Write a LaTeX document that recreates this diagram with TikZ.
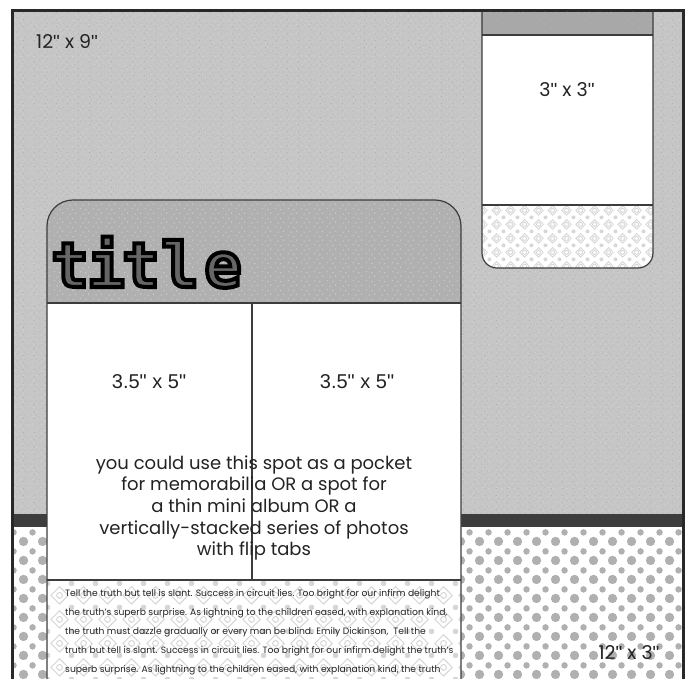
\documentclass[tikz,border=0pt]{standalone}
\usepackage{fontspec}
\setmainfont{Poppins}
\newfontfamily\arialf{Liberation Sans}
\newfontfamily\titlef{DejaVu Sans Mono}
\usetikzlibrary{patterns}
\newcommand{\qq}{{\arialf"}}
\newcommand{\outl}[1]{\special{pdf:code 2 Tr 4 w 0.4 g 0 G}#1\special{pdf:code 0 Tr 1 w 0 g 0 G}}
\definecolor{bggrey}{RGB}{198,198,198}
\definecolor{titlegrey}{RGB}{176,176,176}
\definecolor{stripgrey}{RGB}{168,168,168}
\definecolor{dotgrey}{RGB}{176,176,176}
\definecolor{damgrey}{RGB}{214,214,214}
\definecolor{speckd}{RGB}{178,178,178}
\definecolor{speckl}{RGB}{214,214,214}
\definecolor{edge}{RGB}{60,60,60}
\definecolor{framec}{RGB}{40,40,40}
\definecolor{txt}{RGB}{35,35,35}
\pgfdeclarepatternformonly{polka}{\pgfqpoint{0pt}{0pt}}{\pgfqpoint{19pt}{19pt}}{\pgfqpoint{19pt}{19pt}}{%
  \pgfpathcircle{\pgfqpoint{4.75pt}{4.75pt}}{4.9pt}%
  \pgfpathcircle{\pgfqpoint{14.25pt}{14.25pt}}{3.4pt}%
  \pgfusepath{fill}}
\pgfdeclarepatternformonly{speckA}{\pgfqpoint{0pt}{0pt}}{\pgfqpoint{11pt}{7pt}}{\pgfqpoint{11pt}{7pt}}{%
  \pgfpathrectangle{\pgfqpoint{1pt}{1pt}}{\pgfqpoint{1pt}{1pt}}%
  \pgfpathrectangle{\pgfqpoint{6pt}{3pt}}{\pgfqpoint{1pt}{1pt}}%
  \pgfpathrectangle{\pgfqpoint{9pt}{5pt}}{\pgfqpoint{1pt}{1pt}}%
  \pgfpathrectangle{\pgfqpoint{3pt}{5pt}}{\pgfqpoint{1pt}{1pt}}%
  \pgfusepath{fill}}
\pgfdeclarepatternformonly{speckB}{\pgfqpoint{0pt}{0pt}}{\pgfqpoint{13pt}{9pt}}{\pgfqpoint{13pt}{9pt}}{%
  \pgfpathrectangle{\pgfqpoint{2pt}{2pt}}{\pgfqpoint{1pt}{1pt}}%
  \pgfpathrectangle{\pgfqpoint{8pt}{1pt}}{\pgfqpoint{1pt}{1pt}}%
  \pgfpathrectangle{\pgfqpoint{5pt}{6pt}}{\pgfqpoint{1pt}{1pt}}%
  \pgfpathrectangle{\pgfqpoint{11pt}{7pt}}{\pgfqpoint{1pt}{1pt}}%
  \pgfusepath{fill}}
\pgfdeclarepatternformonly{damsmall}{\pgfqpoint{0pt}{0pt}}{\pgfqpoint{14pt}{14pt}}{\pgfqpoint{14pt}{14pt}}{%
  \pgfsetlinewidth{0.9pt}%
  \pgfpathcircle{\pgfqpoint{7pt}{7pt}}{2.2pt}\pgfusepath{stroke}%
  \pgfpathmoveto{\pgfqpoint{7pt}{2pt}}\pgfpathlineto{\pgfqpoint{12pt}{7pt}}\pgfpathlineto{\pgfqpoint{7pt}{12pt}}\pgfpathlineto{\pgfqpoint{2pt}{7pt}}\pgfpathclose\pgfusepath{stroke}%
  \pgfpathcircle{\pgfqpoint{0pt}{0pt}}{1.8pt}\pgfpathcircle{\pgfqpoint{14pt}{0pt}}{1.8pt}%
  \pgfpathcircle{\pgfqpoint{0pt}{14pt}}{1.8pt}\pgfpathcircle{\pgfqpoint{14pt}{14pt}}{1.8pt}%
  \pgfusepath{fill}}
\pgfdeclarepatternformonly{damlarge}{\pgfqpoint{0pt}{0pt}}{\pgfqpoint{24pt}{24pt}}{\pgfqpoint{24pt}{24pt}}{%
  \pgfsetlinewidth{1pt}%
  \pgfpathcircle{\pgfqpoint{12pt}{12pt}}{3pt}\pgfusepath{stroke}%
  \pgfpathmoveto{\pgfqpoint{12pt}{3pt}}\pgfpathlineto{\pgfqpoint{21pt}{12pt}}\pgfpathlineto{\pgfqpoint{12pt}{21pt}}\pgfpathlineto{\pgfqpoint{3pt}{12pt}}\pgfpathclose\pgfusepath{stroke}%
  \pgfpathcircle{\pgfqpoint{0pt}{0pt}}{2.3pt}\pgfpathcircle{\pgfqpoint{24pt}{0pt}}{2.3pt}%
  \pgfpathcircle{\pgfqpoint{0pt}{24pt}}{2.3pt}\pgfpathcircle{\pgfqpoint{24pt}{24pt}}{2.3pt}%
  \pgfusepath{fill}}
\tikzset{
  edgeline/.style={draw=edge, line width=1.2pt},
  sizelabel/.style={font=\fontsize{19}{21}\selectfont, text=txt, inner sep=0pt},
  photolabel/.style={font=\arialf\fontsize{20}{22}\selectfont, text=txt, inner sep=0pt},
  journal/.style={font=\fontsize{9.2}{10}\selectfont, text=txt, inner sep=0pt, anchor=base west},
  titleletter/.style={anchor=base, inner sep=0pt, font=\titlef\bfseries\fontsize{62}{62}\selectfont, text=black},
  speckle/.style={pattern=speckA, pattern color=speckd},
  speckle2/.style={pattern=speckB, pattern color=speckl},
}
\begin{document}
\begin{tikzpicture}[x=1pt,y=-1pt]
\useasboundingbox (0,0) rectangle (694,679);
\fill[white] (0,0) rectangle (694,679);
% page background
\fill[bggrey] (12,10) rectangle (683,514);
\fill[speckle] (12,10) rectangle (683,514);
\fill[speckle2] (12,10) rectangle (683,514);
\fill[framec!90] (12,514) rectangle (683,527);
\fill[white] (12,527) rectangle (683,679);
\fill[pattern=polka, pattern color=dotgrey] (12,527) rectangle (683,679);
% frame
\draw[framec, line width=3pt] (12.5,679) -- (12.5,10.5) -- (683.5,10.5) -- (683.5,679);
% 3x3 block
\fill[stripgrey] (482,12) rectangle (653,35);
\fill[speckle] (482,12) rectangle (653,35);
\fill[white] (482,35) rectangle (653,205);
\fill[white] (482,205) -- (482,253) arc[start angle=180, end angle=90, radius=15] -- (638,268) arc[start angle=90, end angle=0, radius=15] -- (653,205) -- cycle;
\fill[pattern=damsmall, pattern color=damgrey] (482,205) -- (482,253) arc[start angle=180, end angle=90, radius=15] -- (638,268) arc[start angle=90, end angle=0, radius=15] -- (653,205) -- cycle;
\draw[edgeline] (482,12) -- (482,253) arc[start angle=180, end angle=90, radius=15] -- (638,268) arc[start angle=90, end angle=0, radius=15] -- (653,12);
\draw[edgeline] (482,35) -- (653,35);
\draw[edgeline] (482,205) -- (653,205);
\node[sizelabel] (sq) at (567,90) {3\qq{} x 3\qq};
% title block
\fill[white] (47,679) -- (47,226) arc[start angle=180, end angle=270, radius=26] -- (435,200) arc[start angle=270, end angle=360, radius=26] -- (461,679) -- cycle;
\fill[titlegrey] (47,303) -- (47,226) arc[start angle=180, end angle=270, radius=26] -- (435,200) arc[start angle=270, end angle=360, radius=26] -- (461,303) -- cycle;
\fill[speckle2] (47,303) -- (47,226) arc[start angle=180, end angle=270, radius=26] -- (435,200) arc[start angle=270, end angle=360, radius=26] -- (461,303) -- cycle;
\fill[pattern=damlarge, pattern color=damgrey] (47,580) rectangle (461,679);
\draw[edgeline] (47,679) -- (47,226) arc[start angle=180, end angle=270, radius=26] -- (435,200) arc[start angle=270, end angle=360, radius=26] -- (461,679);
\draw[edgeline] (47,303) -- (461,303);
\draw[edgeline] (47,580) -- (461,580);
\draw[edgeline] (252,303) -- (252,580);
\node[titleletter] (t1) at (70,287) {\outl{t}};
\node[titleletter] (t2) at (106,287) {\outl{i}};
\node[titleletter] (t3) at (141,287) {\outl{t}};
\node[titleletter] (t4) at (180,287) {\outl{l}};
\node[titleletter] (t5) at (223,287) {\outl{e}};
\node[photolabel] (p1) at (149,382) {3.5\qq{} x 5\qq};
\node[photolabel] (p2) at (357,382) {3.5\qq{} x 5\qq};
\node[align=center, font=\fontsize{18}{21.6}\selectfont, text=txt, inner sep=0pt] (note) at (254,508)
  {you could use this spot as a pocket\\for memorabilia OR a spot for\\a thin mini album OR a\\vertically-stacked series of photos\\with flip tabs};
\node[journal] (j1) at (65,596) {Tell the truth but tell is slant. Success in circuit lies. Too bright for our infirm delight};
\node[journal] (j2) at (65,615) {the truth's superb surprise. As lightning to the children eased, with explanation kind,};
\node[journal] (j3) at (65,634) {the truth must dazzle gradually or every man be blind. Emily Dickinson,\ \ Tell the};
\node[journal] (j4) at (65,653) {truth but tell is slant. Success in circuit lies. Too bright for our infirm delight the truth's};
\node[journal] (j5) at (65,672) {superb surprise. As lightning to the children eased, with explanation kind, the truth};
\node[sizelabel, anchor=west] (big) at (36,42) {12\qq{} x 9\qq};
\node[sizelabel] (strip) at (629,653) {12\qq{} x 3\qq};
\end{tikzpicture}
\end{document}
